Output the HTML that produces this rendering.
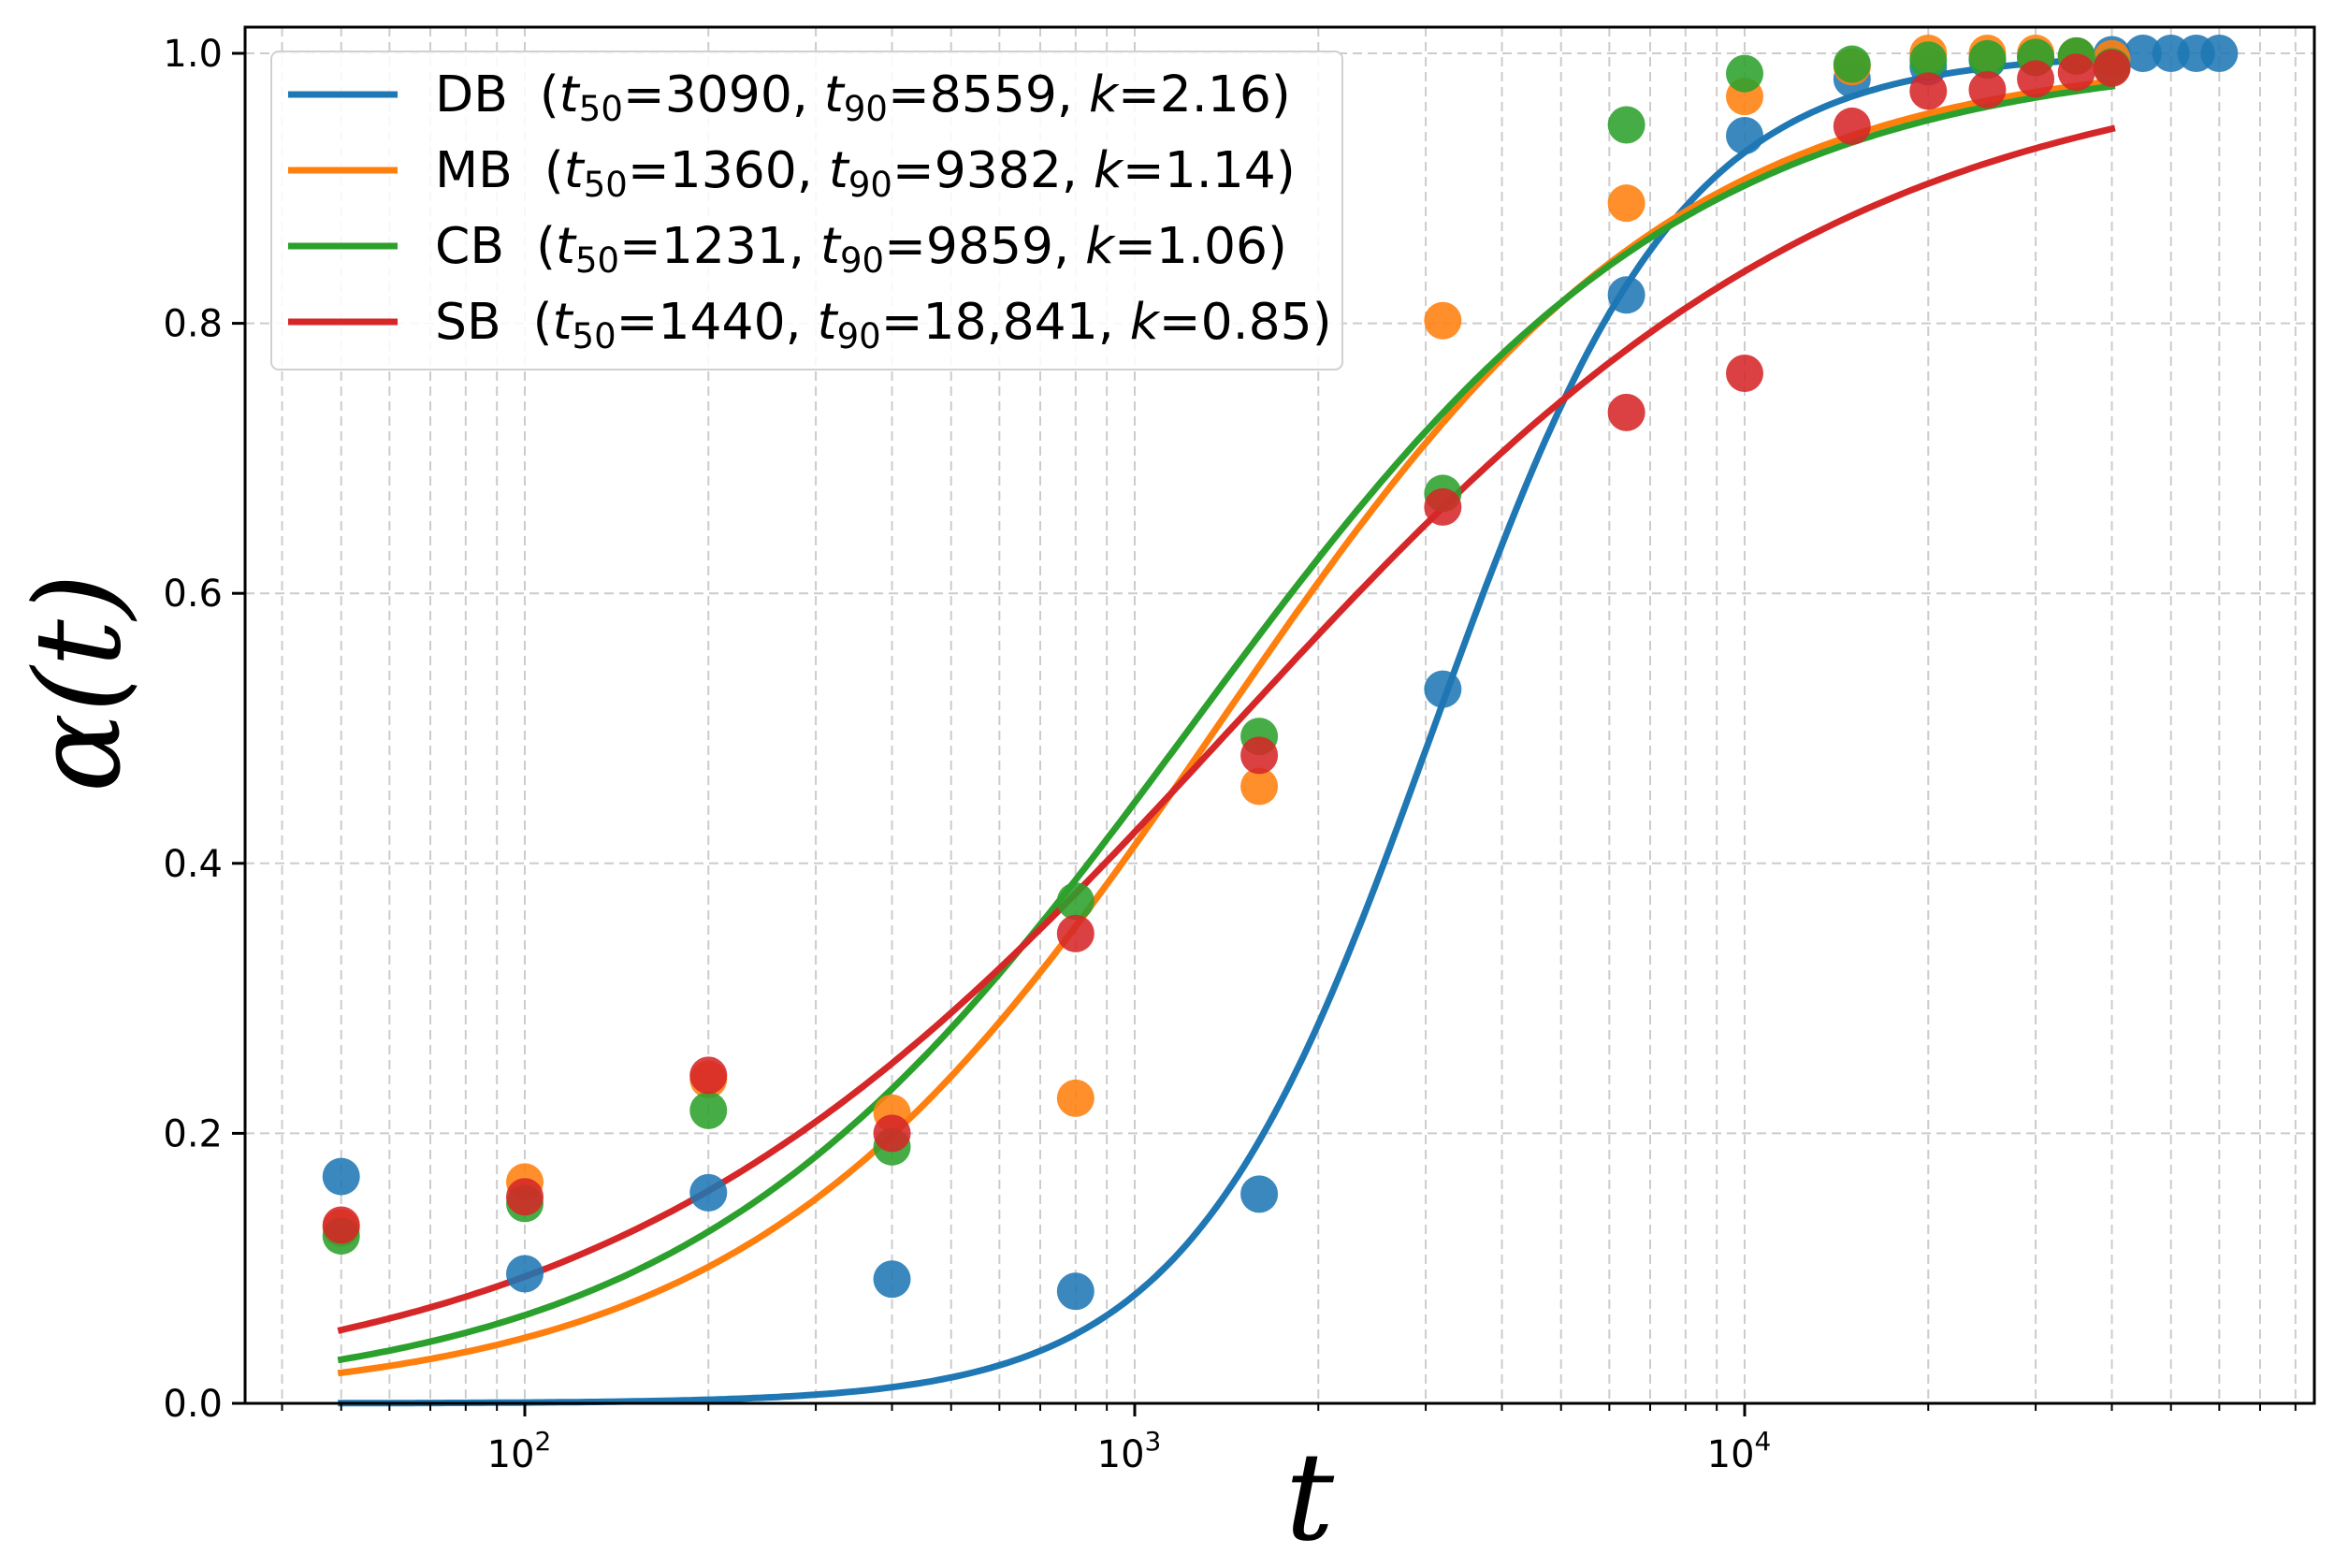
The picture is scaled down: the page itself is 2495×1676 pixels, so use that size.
<!DOCTYPE html>
<html><head><meta charset="utf-8">
<style>
html,body{margin:0;padding:0;background:#fff;}
svg{display:block;}
text{font-family:"DejaVu Sans","Liberation Sans",sans-serif;}
</style></head>
<body>
<svg id="chart" width="2495" height="1676" viewBox="0 0 2495 1676" xmlns="http://www.w3.org/2000/svg">
<g id="grid"></g>
<g id="curves"></g>
<g id="points"></g>
<g id="axes"></g>
<g id="legend"></g>
<text x="1400" y="1645" text-anchor="middle" font-size="130" font-style="italic" style="font-family:'DejaVu Serif','Liberation Serif',serif">t</text>
<text x="0" y="0" transform="translate(127,730) rotate(-90)" text-anchor="middle" font-size="126" font-style="italic" style="font-family:'DejaVu Serif','Liberation Serif',serif">α(t)</text>
</svg>
<script>
const seriesNames = ["DB","MB","CB","SB"];
const colors = ["#1f77b4","#ff7f0e","#2ca02c","#d62728"];
const t50s = [3090,1360,1231,1440];
const t90s = ["3090","1360","1231","1440"];
const t90Labels = ["8559","9382","9859","18,841"];
const kVals = [2.16,1.14,1.06,0.85];
const timesMain = [50,100,200,400,800,1600,3200,6400,10000,15000,20000,25000,30000,35000,40000];
const timesDB = [50,100,200,400,800,1600,3200,6400,10000,15000,20000,25000,30000,35000,40000,45000,50000,55000,60000];
const dbVals = [0.168,0.096,0.156,0.092,0.083,0.155,0.529,0.821,0.939,0.981,0.99,0.995,0.997,0.998,0.999,1.0,1.0,1.0,1.0];
const mbVals = [0.13,0.164,0.24,0.215,0.226,0.457,0.802,0.889,0.968,0.99,1.0,1.0,1.0,0.998,0.996];
const cbVals = [0.124,0.148,0.217,0.19,0.372,0.494,0.674,0.947,0.985,0.992,0.995,0.996,0.997,0.998,0.99];
const sbVals = [0.132,0.153,0.243,0.2,0.348,0.48,0.664,0.734,0.763,0.946,0.972,0.973,0.981,0.986,0.989];
const yTicks = [0,0.2,0.4,0.6,0.8,1.0];
const yTickLabels = ["0.0","0.2","0.4","0.6","0.8","1.0"];
const xDecades = [2,3,4];
const curveStart = 50, curveEnd = 40000;

const NS="http://www.w3.org/2000/svg";
const L=262,R=2474,T=29,B=1500;
function xs(t){return 561+652*(Math.log10(t)-2);}
function ys(v){return 1500-1443*v;}
function mk(tag,attrs,parent){const e=document.createElementNS(NS,tag);for(const k in attrs)e.setAttribute(k,attrs[k]);parent.appendChild(e);return e;}
const grid=document.getElementById('grid'),axes=document.getElementById('axes');
const curves=document.getElementById('curves'),points=document.getElementById('points'),legend=document.getElementById('legend');

for(let d=1;d<=4;d++){for(let m=1;m<=9;m++){const t=m*Math.pow(10,d);const x=xs(t);if(x<L||x>R)continue;
  const g=mk('line',{x1:x,x2:x,y1:T,y2:B,stroke:'#cccccc','stroke-width':2,'stroke-dasharray':'10,6'},grid);
  
  const tk=mk('line',{x1:x,x2:x,y1:B,y2:B+(m===1?14:8),stroke:'#000','stroke-width':m===1?3:2},axes);
  
}}
yTicks.forEach((v,i)=>{const y=ys(v);
  const g=mk('line',{x1:L,x2:R,y1:y,y2:y,stroke:'#cccccc','stroke-width':2,'stroke-dasharray':'10,6'},grid);
  
  const tk=mk('line',{x1:L-14,x2:L,y1:y,y2:y,stroke:'#000','stroke-width':3},axes);
  
  const tx=mk('text',{x:L-24,y:y+14,'text-anchor':'end','font-size':40},axes);tx.textContent=yTickLabels[i];
  
});
xDecades.forEach(d=>{const x=xs(Math.pow(10,d));
  const tx=mk('text',{x:x-6,y:1568,'text-anchor':'middle','font-size':40},axes);
  
  tx.textContent='10';const s=mk('tspan',{dy:-18,'font-size':28},tx);s.textContent=String(d);
});
const frame=mk('rect',{x:L,y:T,width:R-L,height:B-T,fill:'none',stroke:'#000','stroke-width':3},axes);


seriesNames.forEach((n,i)=>{let d='';const N=300;
  for(let j=0;j<=N;j++){const lt=Math.log10(curveStart)+(Math.log10(curveEnd)-Math.log10(curveStart))*j/N;const t=Math.pow(10,lt);
    const a=1/(1+Math.pow(t50s[i]/t,kVals[i]));d+=(j?'L':'M')+xs(t).toFixed(1)+','+ys(a).toFixed(1);}
  const p=mk('path',{d:d,fill:'none',stroke:colors[i],'stroke-width':7,'stroke-linecap':'square'},curves);
  
});
const allT=[timesDB,timesMain,timesMain,timesMain],allV=[dbVals,mbVals,cbVals,sbVals];
seriesNames.forEach((n,i)=>{allT[i].forEach((t,j)=>{
  const c=mk('circle',{cx:xs(t),cy:ys(allV[i][j]),r:20,fill:colors[i],'fill-opacity':0.88},points);
  
});});
const lb=mk('rect',{x:290,y:55,width:1145,height:340,rx:8,fill:'#fff','fill-opacity':0.85,stroke:'#d0d0d0','stroke-width':2},legend);

seriesNames.forEach((n,i)=>{const y=101+81*i;
  const g=mk('g',{},legend);
  mk('line',{x1:308,x2:425,y1:y,y2:y,stroke:colors[i],'stroke-width':7},g);
  const tx=mk('text',{x:465,y:y+18,'font-size':53.5},g);
  const parts=[[n+'  (',0],['t',1],['50',2],['='+t90s[i]+', ',0],['t',1],['90',2],['='+t90Labels[i]+', ',0],['k',1],['='+kVals[i].toFixed(2)+')',0]];
  let lastSub=false;
  parts.forEach(p=>{const s=mk('tspan',{},tx);s.textContent=p[0];
    if(p[1]===1)s.setAttribute('font-style','italic');
    if(p[1]===2){s.setAttribute('font-size','37');s.setAttribute('dy','10');}
    else if(lastSub){s.setAttribute('dy','-10');}
    lastSub=(p[1]===2);
  });
  tx.style.whiteSpace='pre';
});
</script>
</body></html>
